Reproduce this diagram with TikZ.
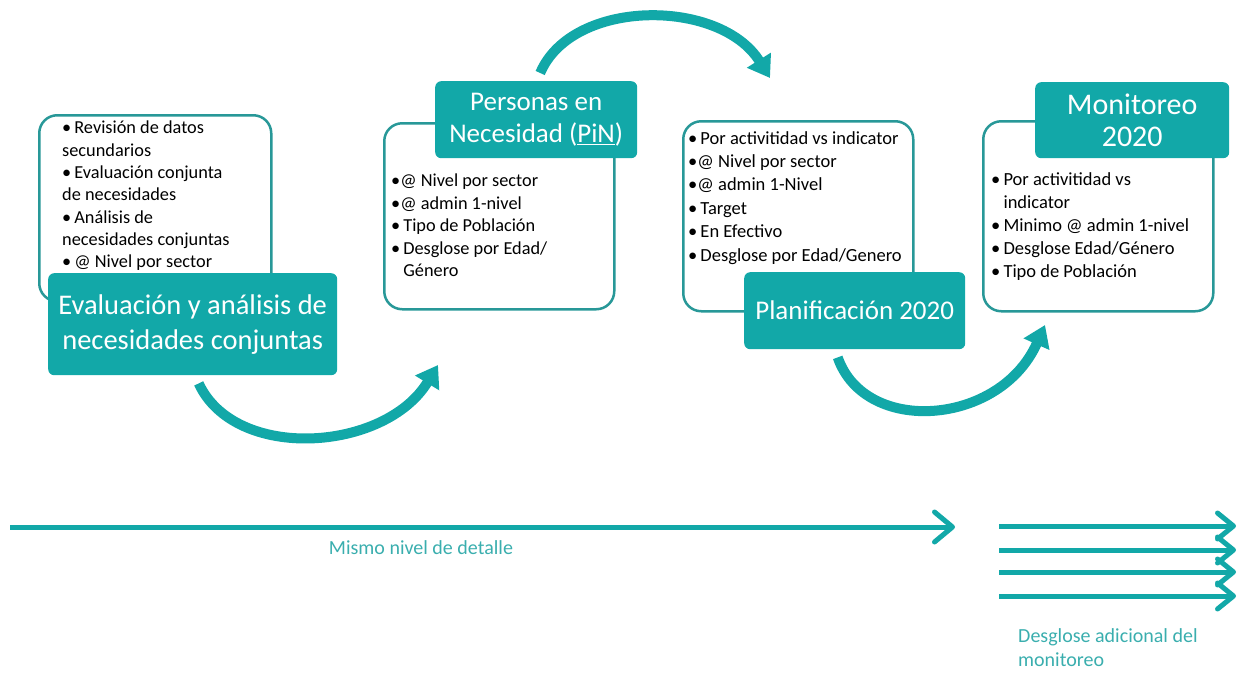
\documentclass[tikz,border=0pt]{standalone}
\usepackage{fontspec}
\setmainfont{Carlito}
\usetikzlibrary{arrows.meta}
\usetikzlibrary{backgrounds}
\definecolor{tealfill}{RGB}{18,168,168}
\definecolor{tealline}{RGB}{40,152,152}
\definecolor{teallabel}{RGB}{58,174,174}
\tikzset{
  listframe/.style={draw=tealline, line width=2.5pt, rounded corners=18pt, anchor=north west, inner sep=0pt, fill=white},
  headbox/.style={fill=tealfill, rounded corners=6pt, text=white, align=center, anchor=north west, inner sep=0pt},
  bullets/.style={anchor=north west, inner sep=0pt, align=left, font=\fontsize{18.5}{23}\selectfont},
  curvearrow/.style={draw=tealfill, line width=10pt, -{Triangle[length=21pt,width=27pt]}},
  flowarrow/.style={draw=tealfill, line width=5pt, -{Straight Barb[length=18pt,width=30pt,round]}},
  note/.style={text=teallabel, inner sep=0pt, align=left, font=\fontsize{20}{24}\selectfont},
}
\begin{document}
\begin{tikzpicture}[x=1pt,y=1pt,yscale=-1,xscale=1]
\useasboundingbox (0,0) rectangle (1238,675);

%Shape: Rounded Rect [frame 1]
\node[listframe, minimum width=232pt, minimum height=186pt] (frame1) at (38,114) {};
%Shape: Rounded Rect [frame 2]
\node[listframe, minimum width=230pt, minimum height=186pt] (frame2) at (383,122) {};
%Shape: Rounded Rect [frame 3]
\node[listframe, minimum width=230pt, minimum height=190pt] (frame3) at (682,120) {};
%Shape: Rounded Rect [frame 4]
\node[listframe, minimum width=230pt, minimum height=190pt] (frame4) at (982,120) {};

% Text Node
\node[bullets, font=\fontsize{18.3}{22.3}\selectfont] (list1) at (62,121) {%
•\,Revisión de datos\\
secundarios\\
•\,Evaluación conjunta\\
de necesidades\\
•\,Análisis de\\
necesidades conjuntas\\
•\,@ Nivel por sector};
% Text Node
\node[bullets, font=\fontsize{18.3}{22.5}\selectfont] (list2) at (391,174) {%
•@ Nivel por sector\\
•@ admin 1-nivel\\
•\,Tipo de Población\\
•\,Desglose por Edad/\\
\phantom{•\,}Género};
% Text Node
\node[bullets, font=\fontsize{18.5}{23.4}\selectfont] (list3) at (688,131) {%
•\,Por activitidad vs indicator\\
•@ Nivel por sector\\
•@ admin 1-Nivel\\
•\,Target\\
•\,En Efectivo\\
•\,Desglose por Edad/Genero};
% Text Node
\node[bullets] (list4) at (991,172) {%
•\,Por activitidad vs\\
\phantom{•\,}indicator\\
•\,Minimo @ admin 1-nivel\\
•\,Desglose Edad/Género\\
•\,Tipo de Población};

%Shape: Rounded Rect [heading 1]
\node[headbox, minimum width=289pt, minimum height=102pt, font=\fontsize{28.5}{35}\selectfont] (eval) at (48,273) {Evaluación y análisis de\\necesidades conjuntas};
%Shape: Rounded Rect [heading 2]
\node[headbox, minimum width=202pt, minimum height=77pt, font=\fontsize{27}{32}\selectfont] (pin) at (435,81) {Personas en\\Necesidad (\underline{PiN})};
%Shape: Rounded Rect [heading 3]
\node[headbox, minimum width=221pt, minimum height=77pt, font=\fontsize{27}{32}\selectfont] (plan) at (744,272) {Planificación 2020};
%Shape: Rounded Rect [heading 4]
\node[headbox, minimum width=194pt, minimum height=76pt, font=\fontsize{30}{32}\selectfont] (monit) at (1035,82) {Monitoreo\\2020};

\coordinate (tip1) at (438,365);
\coordinate (tip2) at (770,78);
\coordinate (tip3) at (1045,325);

\begin{pgfonlayer}{background}
%Curve Lines [eval to PiN]
\draw[curvearrow] ([xshift=6pt,yshift=8pt]eval.south) .. controls (235,462) and (385,452) .. (tip1);
%Curve Lines [PiN to plan]
\draw[curvearrow] ([xshift=4pt,yshift=-8pt]pin.north) .. controls (572,-2) and (720,-2) .. (tip2);
%Curve Lines [plan to monit]
\draw[curvearrow] ([xshift=-17pt,yshift=8pt]plan.south) .. controls (865,436) and (1000,426) .. (tip3);
\end{pgfonlayer}

%Straight Lines [same level]
\draw[flowarrow] (10,527) -- (955,527);
%Straight Lines [extra breakdown]
\foreach \yy in {526,550,572,596}
  \draw[flowarrow, -{Straight Barb[length=16pt,width=26pt,round]}] (999,\yy) -- (1236,\yy);

% Text Node
\node[note] (same) at (421,548) {Mismo nivel de detalle};
% Text Node
\node[note, anchor=north west] (extra) at (1018,628) {Desglose adicional del\\monitoreo};
\end{tikzpicture}
\end{document}
